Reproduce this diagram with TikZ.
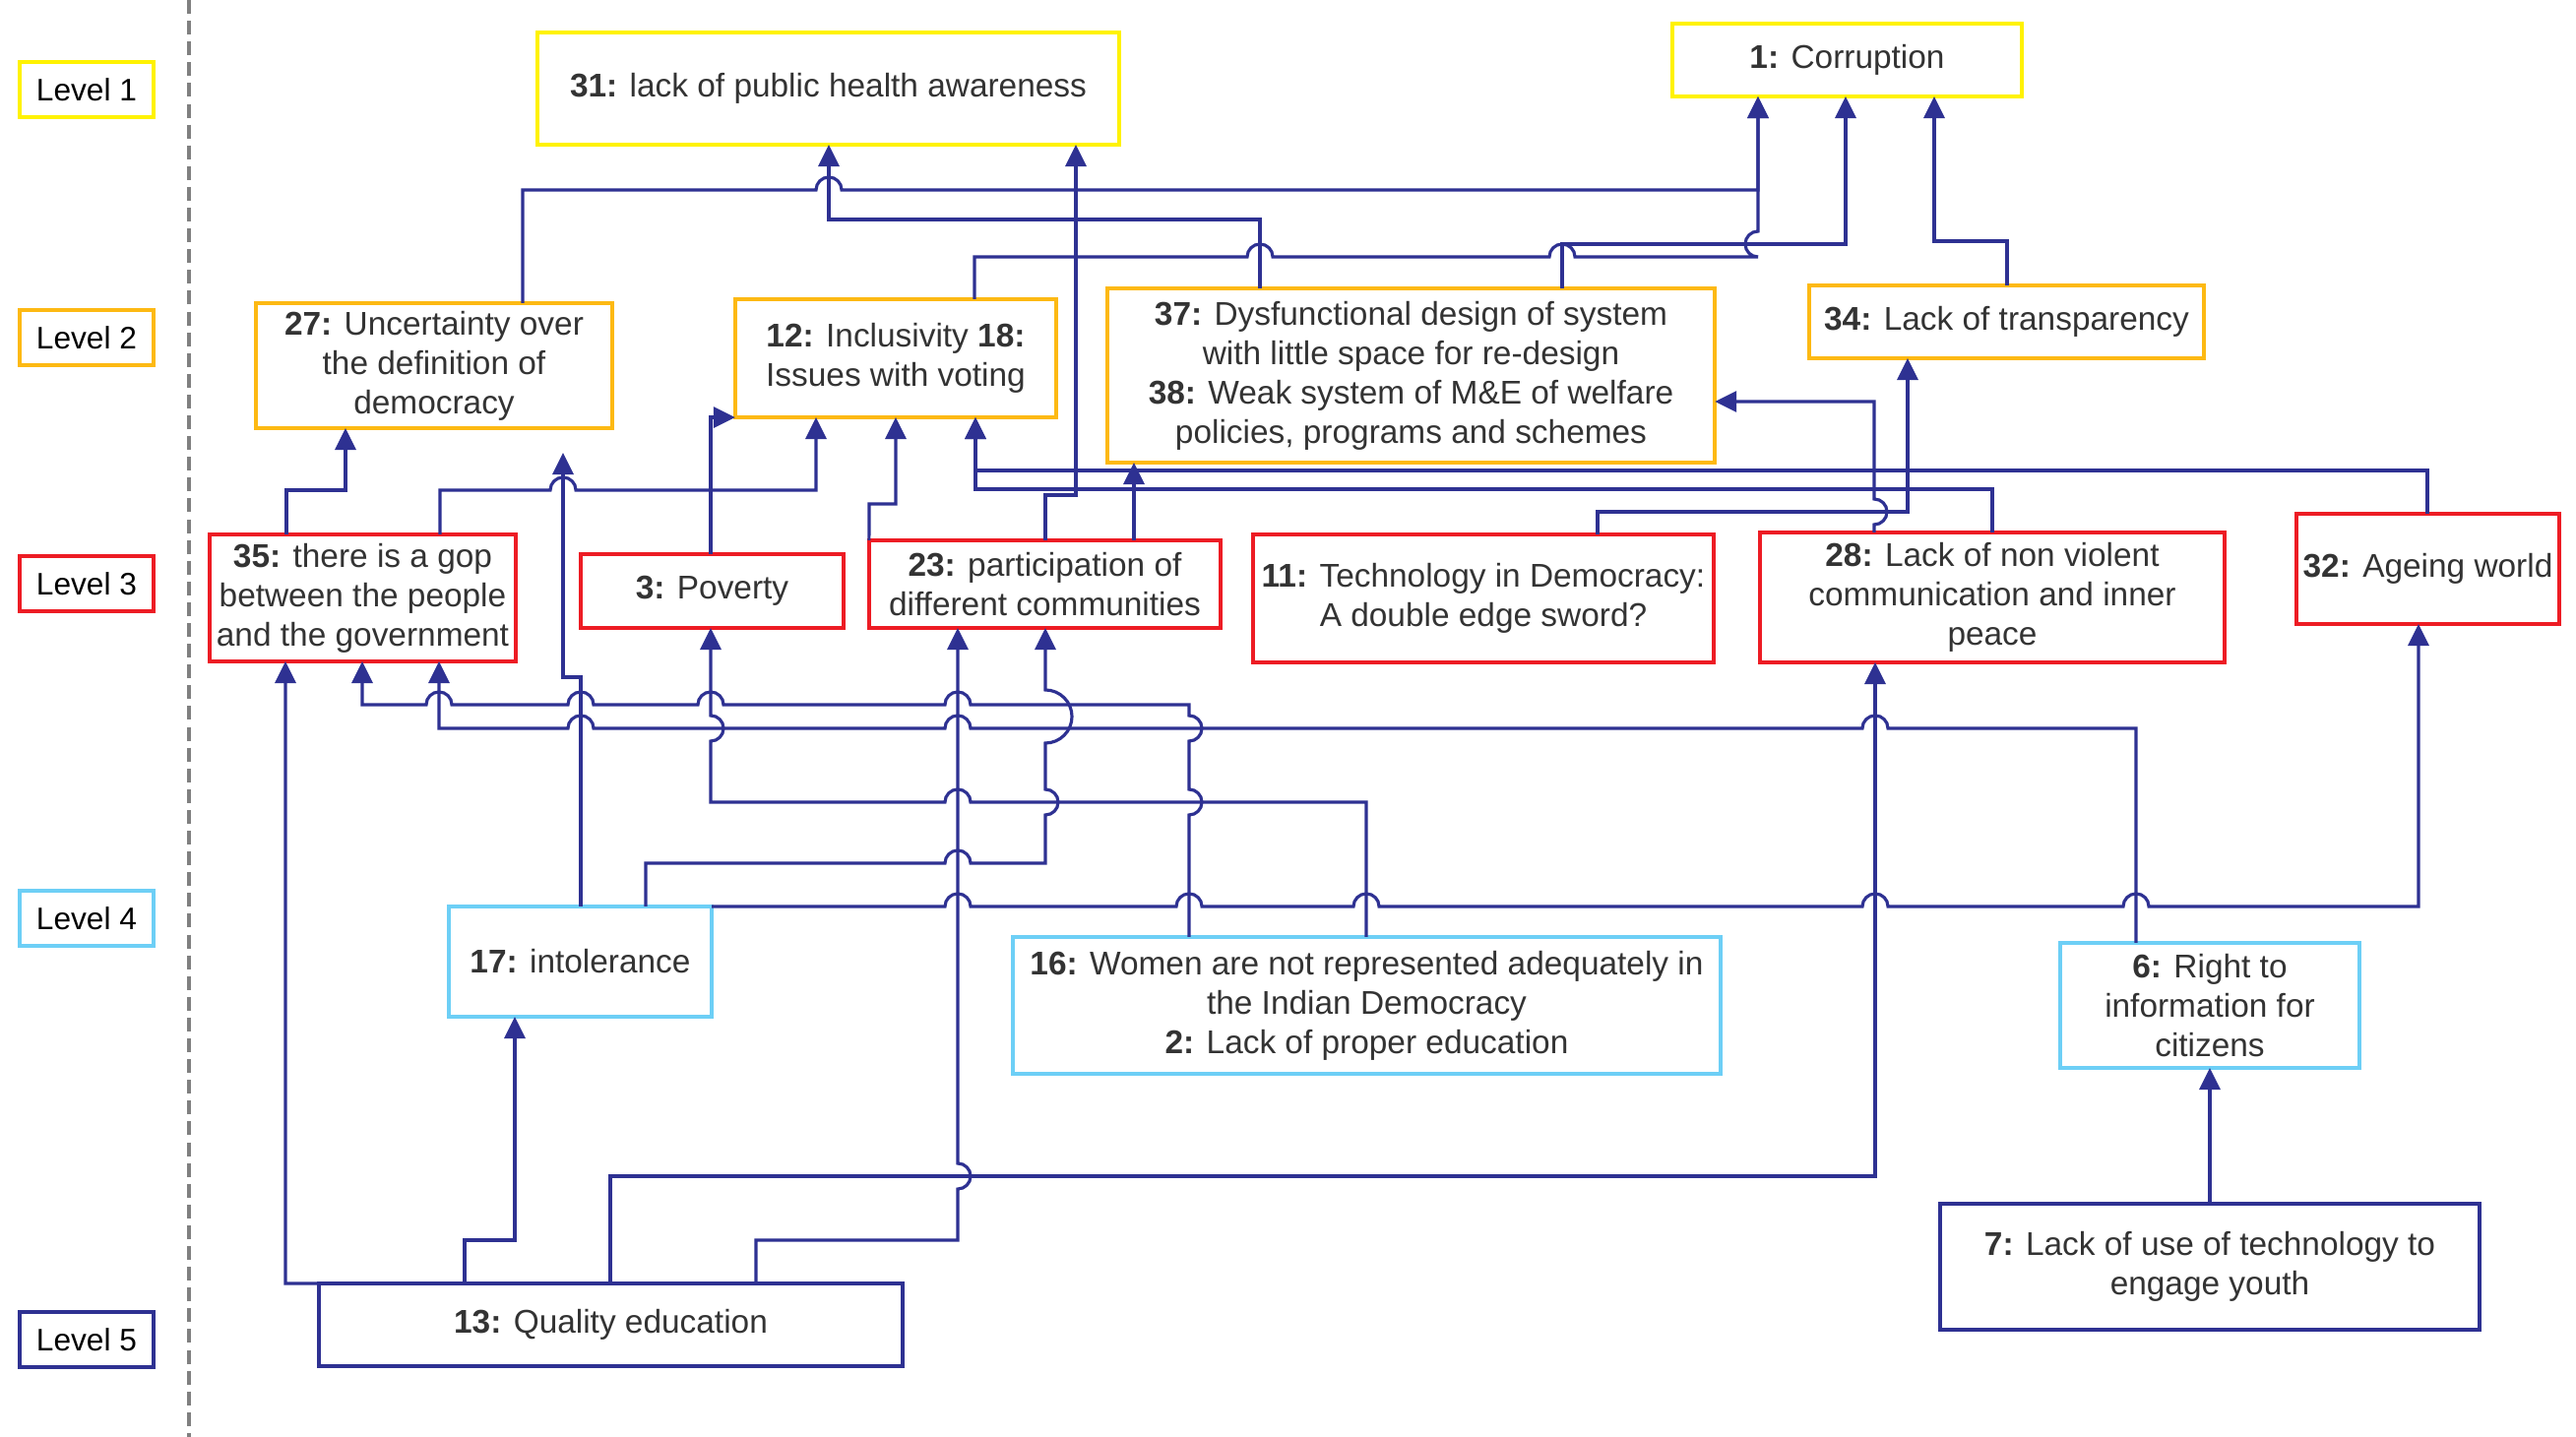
\documentclass[tikz,border=0pt]{standalone}
\usepackage{fontspec}
\setmainfont{Liberation Sans}
\usetikzlibrary{arrows.meta}
\definecolor{cYel}{RGB}{255,242,0}
\definecolor{cOra}{RGB}{253,185,19}
\definecolor{cRed}{RGB}{237,28,36}
\definecolor{cBlu}{RGB}{109,207,246}
\definecolor{cNav}{RGB}{46,49,146}
\definecolor{txt}{RGB}{51,51,51}
\definecolor{cGry}{RGB}{128,128,128}
\begin{document}
\begin{tikzpicture}[x=0.01cm,y=-0.01cm,
  box/.style={draw, line width=1pt, fill=white, align=center, inner sep=0pt, outer sep=0pt, text=txt, font=\fontsize{9.5}{11.4}\selectfont},
  lvl/.style={draw, line width=1pt, fill=white, inner sep=0pt, minimum width=1.36cm, minimum height=0.56cm, font=\fontsize{9}{11}\selectfont},
  conn/.style={draw=cNav, line width=0.9pt, -{Triangle[length=0.22cm,width=0.21cm]}},
  sep/.style={draw=cGry, line width=1pt, dash pattern=on 4pt off 2pt}
]
\useasboundingbox (0,0) rectangle (2617,1460);
\fill[white] (0,0) rectangle (2617,1460);
\coordinate (s1) at (192,0);
\coordinate (s2) at (192,1460);
\draw[sep] (s1) -- (s2);

% level labels
\node[lvl, draw=cYel] (l1) at (88,91) {Level 1};
\node[lvl, draw=cOra] (l2) at (88,343) {Level 2};
\node[lvl, draw=cRed] (l3) at (88,593) {Level 3};
\node[lvl, draw=cBlu] (l4) at (88,933) {Level 4};
\node[lvl, draw=cNav] (l5) at (88,1361) {Level 5};

% level 1
\node[box, draw=cYel, minimum width=5.91cm, minimum height=1.14cm] (n31) at (841.5,90) {\textbf{31:} lack of public health awareness};
\node[box, draw=cYel, minimum width=3.55cm, minimum height=0.74cm] (n1) at (1876.5,61) {\textbf{1:} Corruption};
% level 2
\node[box, draw=cOra, minimum width=3.62cm, minimum height=1.27cm] (n27) at (441,371.5) {\textbf{27:} Uncertainty over\\the definition of\\democracy};
\node[box, draw=cOra, minimum width=3.26cm, minimum height=1.20cm] (n12) at (910,364) {\textbf{12:} Inclusivity \textbf{18:}\\Issues with voting};
\node[box, draw=cOra, minimum width=6.17cm, minimum height=1.77cm] (n37) at (1433.5,381.5) {\textbf{37:} Dysfunctional design of system\\with little space for re-design\\\textbf{38:} Weak system of M\&E of welfare\\policies, programs and schemes};
\node[box, draw=cOra, minimum width=4.01cm, minimum height=0.74cm] (n34) at (2038.5,327) {\textbf{34:} Lack of transparency};
% level 3
\node[box, draw=cRed, minimum width=3.11cm, minimum height=1.29cm] (n35) at (368.5,607.5) {\textbf{35:} there is a gop\\between the people\\and the government};
\node[box, draw=cRed, minimum width=2.67cm, minimum height=0.75cm] (n3) at (723.5,600.5) {\textbf{3:} Poverty};
\node[box, draw=cRed, minimum width=3.57cm, minimum height=0.89cm] (n23) at (1061.5,593.5) {\textbf{23:} participation of\\different communities};
\node[box, draw=cRed, minimum width=4.68cm, minimum height=1.30cm] (n11) at (1507,608) {\textbf{11:} Technology in Democracy:\\A double edge sword?};
\node[box, draw=cRed, minimum width=4.72cm, minimum height=1.32cm] (n28) at (2024,607) {\textbf{28:} Lack of non violent\\communication and inner\\peace};
\node[box, draw=cRed, minimum width=2.67cm, minimum height=1.12cm] (n32) at (2466.5,578) {\textbf{32:} Ageing world};
% level 4
\node[box, draw=cBlu, minimum width=2.67cm, minimum height=1.12cm] (n17) at (589.5,977) {\textbf{17:} intolerance};
\node[box, draw=cBlu, minimum width=7.19cm, minimum height=1.39cm] (n16) at (1388.5,1021.5) {\textbf{16:} Women are not represented adequately in\\the Indian Democracy\\\textbf{2:} Lack of proper education};
\node[box, draw=cBlu, minimum width=3.04cm, minimum height=1.27cm] (n6) at (2245,1021.5) {\textbf{6:} Right to\\information for\\citizens};
% level 5
\node[box, draw=cNav, minimum width=5.93cm, minimum height=0.84cm] (n13) at (620.5,1346) {\textbf{13:} Quality education};
\node[box, draw=cNav, minimum width=5.48cm, minimum height=1.28cm] (n7) at (2245,1287) {\textbf{7:} Lack of use of technology to\\engage youth};

% ---- connectors: top ----
\draw[conn] (531,0 |- n27.north) -- (531,193) -- (829,193) arc[start angle=180,end angle=0,radius=0.13cm] -- (1786,193) -- (1786,0 |- n1.south);
\draw[conn] (1280,0 |- n37.north) -- (1280,223) -- (842,223) -- (842,0 |- n31.south);
\draw[conn] (990,0 |- n12.north) -- (990,261) -- (1267,261) arc[start angle=180,end angle=0,radius=0.13cm] -- (1574,261) arc[start angle=180,end angle=0,radius=0.13cm] -- (1786,261) arc[start angle=-90,end angle=-270,radius=0.13cm] -- (1786,0 |- n1.south);
\draw[conn] (1587,0 |- n37.north) -- (1587,248) -- (1875,248) -- (1875,0 |- n1.south);
\draw[conn] (2039,0 |- n34.north) -- (2039,245) -- (1965,245) -- (1965,0 |- n1.south);
\draw[conn] (1062,0 |- n23.north) -- (1062,503) -- (1093,503) -- (1093,0 |- n31.south);

% ---- level 2-3 ----
\draw[conn] (722,0 |- n3.north) |- (n12.south west);
\draw[conn] (447,0 |- n35.north) -- (447,498) -- (559,498) arc[start angle=180,end angle=0,radius=0.13cm] -- (829,498) -- (829,0 |- n12.south);
\draw[conn] (291,0 |- n35.north) -- (291,498) -- (351,498) -- (351,0 |- n27.south);
\draw[conn, shorten >=0.25cm] (590,0 |- n17.north) -- (590,688) -- (572,688) -- (572,0 |- n27.south);
\draw[conn] (n23.north west) -- (883,512) -- (910,512) -- (910,0 |- n12.south);
\draw[conn] (2466,0 |- n32.north) -- (2466,478) -- (991,478) -- (991,0 |- n12.south);
\draw[conn] (2024,0 |- n28.north) -- (2024,497) -- (991,497) -- (991,0 |- n12.south);
\draw[conn] (1152,0 |- n23.north) -- (1152,0 |- n37.south);
\draw[conn] (1904,0 |- n28.north) -- (1904,533) arc[start angle=-90,end angle=90,radius=0.13cm] -- (1904,408) -- (n37.east |- 0,408);
\draw[conn] (1623,0 |- n11.north) -- (1623,520) -- (1938,520) -- (1938,0 |- n34.south);

% ---- level 3-5 ----
\draw[conn] (n13.north west) -- (290,1304) -- (290,0 |- n35.south);
\draw[conn] (1208,0 |- n16.north) -- (1208,828) arc[start angle=-90,end angle=90,radius=0.13cm] -- (1208,753) arc[start angle=-90,end angle=90,radius=0.13cm] -- (1208,716) -- (986,716) arc[start angle=0,end angle=180,radius=0.13cm] -- (735,716) arc[start angle=0,end angle=180,radius=0.13cm] -- (603,716) arc[start angle=0,end angle=180,radius=0.13cm] -- (459,716) arc[start angle=0,end angle=180,radius=0.13cm] -- (368,716) -- (368,0 |- n35.south);
\draw[conn] (2170,0 |- n6.north) -- (2170,740) -- (1918,740) arc[start angle=0,end angle=180,radius=0.13cm] -- (986,740) arc[start angle=0,end angle=180,radius=0.13cm] -- (603,740) arc[start angle=0,end angle=180,radius=0.13cm] -- (446,740) -- (446,0 |- n35.south);
\draw[conn] (1388,0 |- n16.north) -- (1388,815) -- (986,815) arc[start angle=0,end angle=180,radius=0.13cm] -- (722,815) -- (722,753) arc[start angle=-90,end angle=90,radius=0.13cm] -- (722,0 |- n3.south);
\draw[conn] (656,0 |- n17.north) -- (656,877) -- (960,877) arc[start angle=180,end angle=0,radius=0.13cm] -- (1062,877) -- (1062,828) arc[start angle=-90,end angle=90,radius=0.13cm] -- (1062,755) arc[start angle=-90,end angle=90,radius=0.27cm] -- (1062,0 |- n23.south);
\draw[conn] (n17.north east) -- (960,921) arc[start angle=180,end angle=0,radius=0.13cm] -- (1195,921) arc[start angle=180,end angle=0,radius=0.13cm] -- (1375,921) arc[start angle=180,end angle=0,radius=0.13cm] -- (1892,921) arc[start angle=180,end angle=0,radius=0.13cm] -- (2157,921) arc[start angle=180,end angle=0,radius=0.13cm] -- (2457,921) -- (2457,0 |- n32.south);
\draw[conn] (472,0 |- n13.north) -- (472,1260) -- (523,1260) -- (523,0 |- n17.south);
\draw[conn] (620,0 |- n13.north) -- (620,1195) -- (1905,1195) -- (1905,0 |- n28.south);
\draw[conn] (768,0 |- n13.north) -- (768,1260) -- (973,1260) -- (973,1208) arc[start angle=-90,end angle=90,radius=0.13cm] -- (973,0 |- n23.south);
\draw[conn] (n7.north) -- (n6.south);
\end{tikzpicture}
\end{document}
